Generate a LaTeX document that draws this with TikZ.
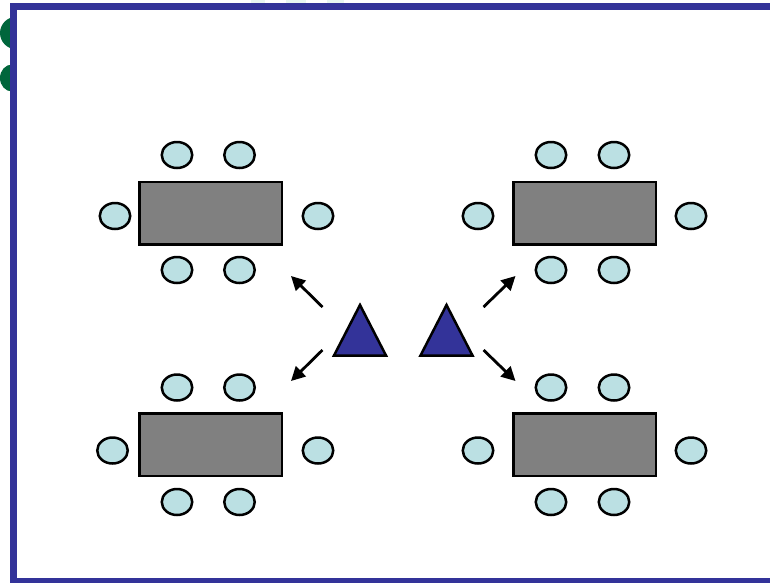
\documentclass[tikz,border=0pt]{standalone}
\usetikzlibrary{arrows.meta,shapes.geometric}
\definecolor{framec}{RGB}{51,51,153}
\definecolor{chairc}{RGB}{187,224,227}
\definecolor{tablec}{RGB}{128,128,128}
\definecolor{greenc}{RGB}{0,102,60}
\definecolor{faintc}{RGB}{232,246,240}
\tikzset{
  tablebox/.style={draw=black,line width=2.6pt,fill=tablec,rectangle,inner sep=0pt,outer sep=0pt,minimum width=142.5pt,minimum height=62.5pt},
  chair/.style={draw=black,line width=2.5pt,fill=chairc,ellipse,inner sep=0pt,outer sep=0pt,minimum width=30.5pt,minimum height=26pt},
  teacher/.style={draw=black,line width=2.5pt,fill=framec,line join=miter},
  pointer/.style={draw=black,line width=2.8pt,-{Triangle[length=14pt,width=14pt]}}
}
\begin{document}
\begin{tikzpicture}[x=1pt,y=-1pt]
\useasboundingbox (0,0) rectangle (770,582);
\clip (0,0) rectangle (770,582);
% background fragments
\fill[greenc] (17,33) ellipse (17 and 16.5);
\fill[greenc] (12,78) ellipse (12 and 13.5);
\fill[faintc] (251,0) rectangle (265,3);
\fill[faintc] (286,0) rectangle (306,3);
\fill[faintc] (327,0) rectangle (344,3);
% frame
\fill[white] (13.5,6.5) rectangle (790,600);
\draw[framec,line width=7pt] (790,6.5) -- (13.5,6.5) -- (13.5,581.5) -- (790,581.5);

% top-left group
\node[tablebox] (t1) at (210.8,213.2) {};
\node[chair] (t1a) at (177,155) {};
\node[chair] (t1b) at (239.5,155) {};
\node[chair] (t1c) at (115,216) {};
\node[chair] (t1d) at (318,216) {};
\node[chair] (t1e) at (177,270) {};
\node[chair] (t1f) at (239.5,270) {};
% top-right group
\node[tablebox] (t2) at (584.8,213.2) {};
\node[chair] (t2a) at (551,155) {};
\node[chair] (t2b) at (614,155) {};
\node[chair] (t2c) at (478,216) {};
\node[chair] (t2d) at (691,216) {};
\node[chair] (t2e) at (551,270) {};
\node[chair] (t2f) at (614,270) {};
% bottom-left group
\node[tablebox] (t3) at (210.8,444.8) {};
\node[chair] (t3a) at (177,387.5) {};
\node[chair] (t3b) at (239.5,387.5) {};
\node[chair] (t3c) at (112.5,450.5) {};
\node[chair] (t3d) at (318,450.5) {};
\node[chair] (t3e) at (177,502) {};
\node[chair] (t3f) at (239.5,502) {};
% bottom-right group
\node[tablebox] (t4) at (584.8,444.8) {};
\node[chair] (t4a) at (551,387.5) {};
\node[chair] (t4b) at (614,387.5) {};
\node[chair] (t4c) at (478,450.5) {};
\node[chair] (t4d) at (691,450.5) {};
\node[chair] (t4e) at (551,502) {};
\node[chair] (t4f) at (614,502) {};

% teachers
\filldraw[teacher] (360,305) -- (386,355.5) -- (334,355.5) -- cycle;
\filldraw[teacher] (446.5,305) -- (472.5,355.5) -- (420.5,355.5) -- cycle;

% arrows
\coordinate (a1s) at (322.5,307);
\coordinate (a1e) at (291,276);
\coordinate (a2s) at (322.5,350);
\coordinate (a2e) at (291,381);
\coordinate (a3s) at (483.5,307);
\coordinate (a3e) at (515.5,276);
\coordinate (a4s) at (483.5,350);
\coordinate (a4e) at (515.5,381);
\draw[pointer] (a1s) -- (a1e);
\draw[pointer] (a2s) -- (a2e);
\draw[pointer] (a3s) -- (a3e);
\draw[pointer] (a4s) -- (a4e);
\end{tikzpicture}
\end{document}
